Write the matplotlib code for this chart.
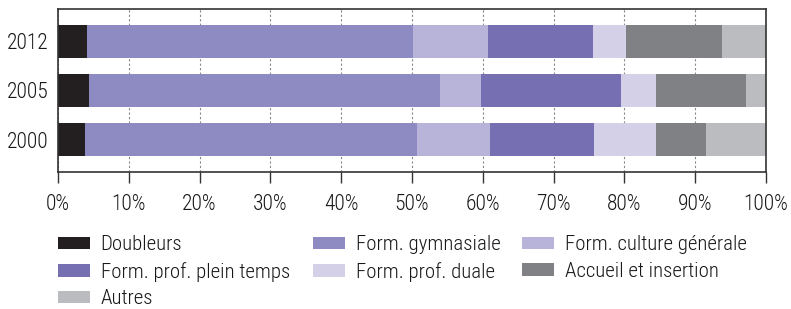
import numpy as np
import matplotlib.pyplot as plt
from matplotlib.patches import Patch
from matplotlib.ticker import FuncFormatter

plt.rcParams['font.family'] = ['Roboto Condensed', 'Archivo Narrow', 'DejaVu Sans']
plt.rcParams['font.weight'] = 'light'

years = ['2000', '2005', '2012']
categories = ['Doubleurs', 'Form. gymnasiale', 'Form. culture générale',
              'Form. prof. plein temps', 'Form. prof. duale',
              'Accueil et insertion', 'Autres']
# shares in % per year (2000, 2005, 2012)
doubleurs = [3.8, 4.4, 4.1]
gymnasiale = [46.9, 49.5, 46.0]
culture = [10.3, 5.8, 10.6]
plein_temps = [14.7, 19.8, 14.9]
duale = [8.7, 5.0, 4.6]
accueil = [7.1, 12.7, 13.6]
autres = [8.5, 2.8, 6.2]

series = [doubleurs, gymnasiale, culture, plein_temps, duale, accueil, autres]
colors = ['#231f20', '#8e8ac2', '#b8b3d9', '#7670b3', '#d3d0e8',
          '#808184', '#bbbcbf']

fig = plt.figure(figsize=(7.91, 3.09), dpi=100)
ax = fig.add_axes([0.0733, 0.4434, 0.8951, 0.5275])

y = np.arange(len(years))
left = np.zeros(len(years))
for vals, c in zip(series, colors):
    ax.barh(y, vals, left=left, height=0.67, color=c, zorder=2)
    left = left + np.array(vals)

ax.set_xlim(0, 100)
ax.set_ylim(-0.66, 2.66)
ax.set_yticks(y)
ax.set_yticklabels(years)
ax.set_xticks(np.arange(0, 101, 10))
ax.xaxis.set_major_formatter(FuncFormatter(lambda v, p: '%d%%' % v))
ax.grid(axis='x', linestyle=(0, (2, 2)), color='#888888', lw=0.8, zorder=0)
ax.tick_params(axis='x', direction='out', length=8, width=1, color='#333333',
               labelsize=15.5, pad=8, labelcolor='#1a1718')
ax.tick_params(axis='y', length=0, labelsize=15.5, pad=7, labelcolor='#1a1718')
for s in ax.spines.values():
    s.set_color('#333333')
    s.set_linewidth(1.2)

# legend: three columns placed side by side
columns = [[0, 3, 6], [1, 4], [2, 5]]
col_x = [0.0733, 0.3957, 0.660]
for idx, x0 in zip(columns, col_x):
    handles = [Patch(facecolor=colors[i], edgecolor='none') for i in idx]
    labels = [categories[i] for i in idx]
    leg = fig.legend(handles, labels, loc='upper left', bbox_to_anchor=(x0, 0.239),
                     frameon=False, fontsize=15, borderpad=0, borderaxespad=0,
                     handlelength=1.55, handleheight=0.55, handletextpad=0.5,
                     labelspacing=0.37, labelcolor='#1a1718')

fig.savefig('out.png', dpi=100)
